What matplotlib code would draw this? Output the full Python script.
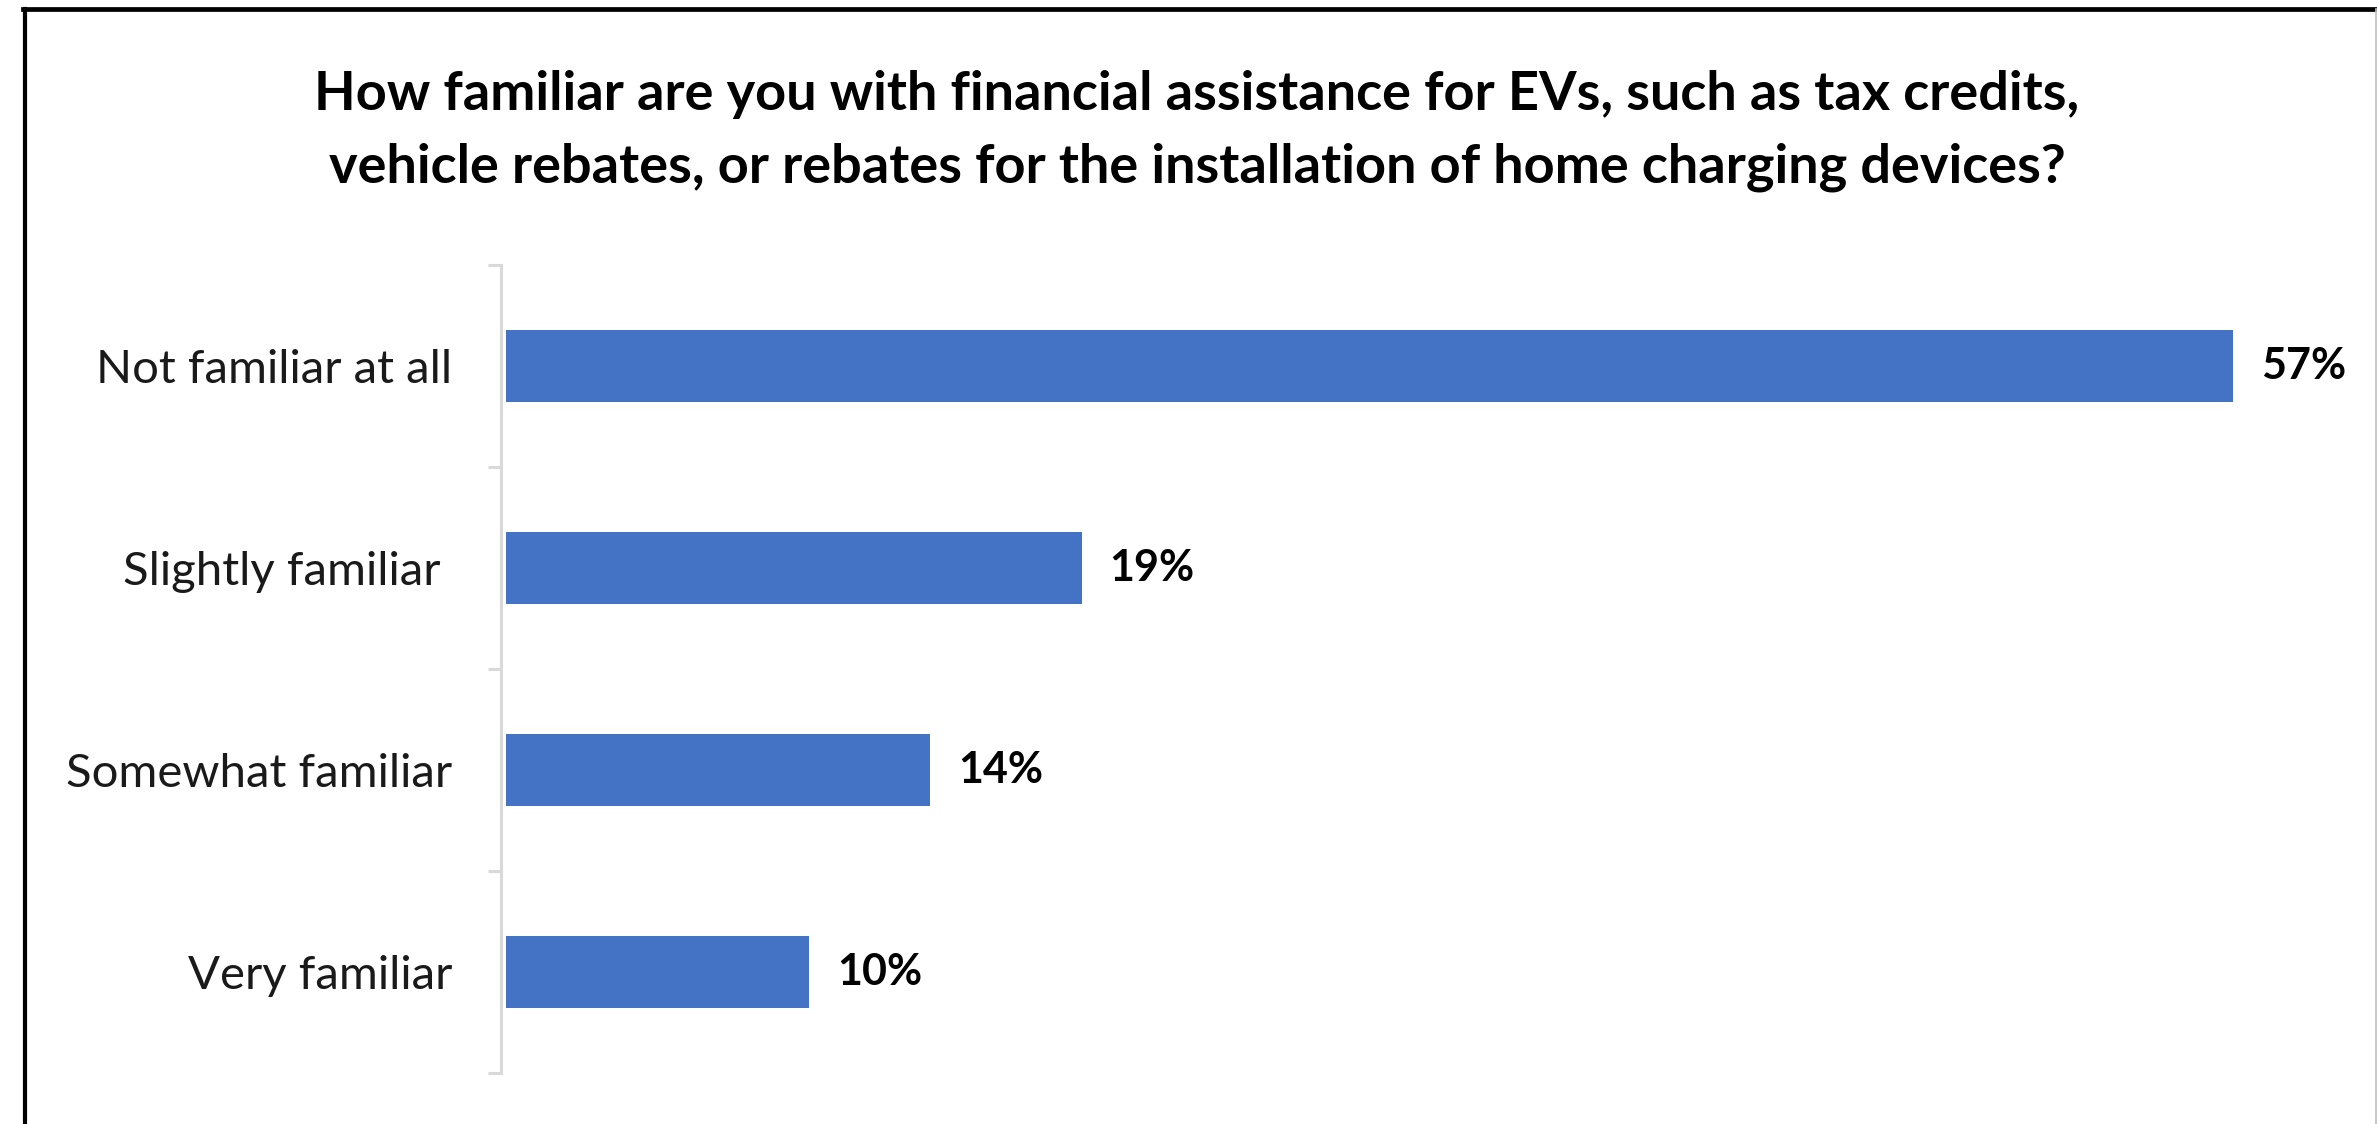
import matplotlib
matplotlib.use("Agg")
import matplotlib.pyplot as plt
from matplotlib.lines import Line2D

# Survey responses (share of respondents, %)
categories = ["Not familiar at all", "Slightly familiar ", "Somewhat familiar", "Very familiar"]
values = [57, 19, 14, 10]
value_labels = ["57%", "19%", "14%", "10%"]

title = ("How familiar are you with financial assistance for EVs, such as tax credits,\n"
         "vehicle rebates, or rebates for the installation of home charging devices?")

BAR_COLOR = "#4472C4"
AXIS_GRAY = "#D9D9D9"
FONT = ["Lato", "DejaVu Sans"]

W, H, DPI = 2377, 1124, 100
fig = plt.figure(figsize=(W / DPI, H / DPI), dpi=DPI)
fig.patch.set_facecolor("white")

# Plot area in pixel coordinates
px_left, px_right = 501, 2300
px_top, px_bottom = 265, 1073
ax = fig.add_axes([px_left / W, 1 - px_bottom / H,
                   (px_right - px_left) / W, (px_bottom - px_top) / H])

ypos = list(range(len(categories)))
ax.barh(ypos, values, height=0.36, color=BAR_COLOR, zorder=2)

px_per_unit = 30.3
x0 = -5 / px_per_unit
ax.set_xlim(x0, x0 + (px_right - px_left) / px_per_unit)
ax.set_ylim(len(categories) - 0.5, -0.5)

# Category boundary ticks on the left axis
ax.set_yticks([i - 0.5 for i in range(len(categories) + 1)])
ax.set_yticklabels([])
ax.tick_params(axis="y", which="major", length=9.5, width=2.2, color=AXIS_GRAY)
ax.set_yticks(ypos, minor=True)
ax.set_yticklabels(categories, minor=True, fontsize=34, family=FONT, color="#1a1a1a")
ax.tick_params(axis="y", which="minor", length=0, pad=35)
ax.set_xticks([])

for side in ["top", "right", "bottom"]:
    ax.spines[side].set_visible(False)
ax.spines["left"].set_color(AXIS_GRAY)
ax.spines["left"].set_linewidth(2.2)
ax.set_facecolor("none")

for y, v, lab in zip(ypos, values, value_labels):
    ax.annotate(lab, xy=(v, y), xytext=(20, 0), textcoords="offset points",
                ha="left", va="center", fontsize=31, fontweight="bold",
                family=FONT, color="black")

fig.text(1197 / W, 1 - 131 / H, title, ha="center", va="center",
         fontsize=39, fontweight="bold", family=FONT, color="black",
         linespacing=1.6)

# Chart frame
fig.add_artist(Line2D([23 / W, 1.0], [1 - 9 / H, 1 - 9 / H], color="black",
                      linewidth=3.4, transform=fig.transFigure))
fig.add_artist(Line2D([25 / W, 25 / W], [0, 1 - 9 / H], color="black",
                      linewidth=3.0, transform=fig.transFigure))
fig.add_artist(Line2D([2375.5 / W, 2375.5 / W], [0, 1 - 9 / H], color="#BFBFBF",
                      linewidth=1.2, transform=fig.transFigure))

fig.savefig("out.png", dpi=DPI, facecolor="white")
